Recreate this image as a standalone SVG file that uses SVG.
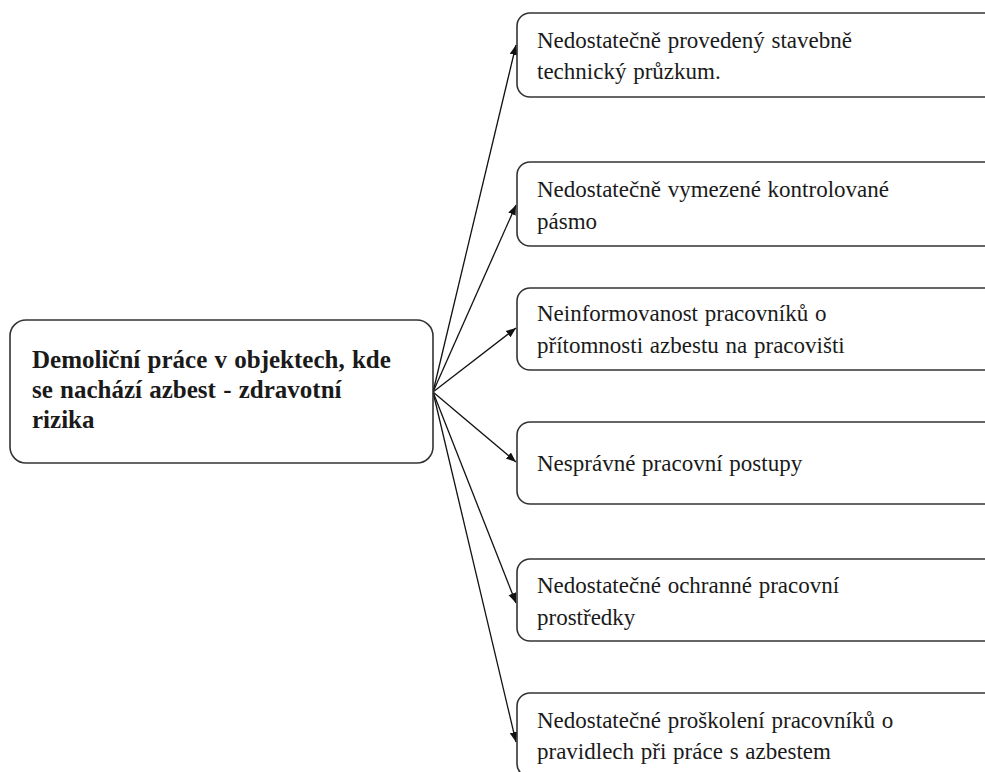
<svg xmlns="http://www.w3.org/2000/svg" width="985" height="772" viewBox="0 0 985 772">
<defs>
<marker id="ah" viewBox="0 0 10 10" refX="10" refY="5" markerWidth="10" markerHeight="10" markerUnits="userSpaceOnUse" orient="auto">
<path d="M0,1 L10,5 L0,9 z" fill="#111"/>
</marker>
</defs>
<style>
.box{fill:#fff;stroke:#333;stroke-width:1.6}
.t{font-family:"Liberation Serif","Times New Roman",serif;font-size:23px;fill:#1a1a1a;word-spacing:1px}
.tb{font-family:"Liberation Serif","Times New Roman",serif;font-size:25px;font-weight:bold;fill:#1a1a1a;word-spacing:1px}
.c{stroke:#111;stroke-width:1.3;fill:none;marker-end:url(#ah)}
</style>
<rect width="985" height="772" fill="#fff"/>
<g id="connectors">
<line class="c" x1="433" y1="392" x2="516" y2="45"/>
<line class="c" x1="433" y1="392" x2="516" y2="205"/>
<line class="c" x1="433" y1="392" x2="516" y2="328"/>
<line class="c" x1="433" y1="392" x2="516" y2="462"/>
<line class="c" x1="433" y1="392" x2="516" y2="603"/>
<line class="c" x1="433" y1="392" x2="516" y2="742"/>
</g>
<g id="main">
<rect class="box" x="10" y="320" width="423" height="143" rx="16"/>
<text class="tb" x="32" y="368">Demoliční práce v objektech, kde</text>
<text class="tb" x="32" y="398">se nachází azbest - zdravotní</text>
<text class="tb" x="32" y="428">rizika</text>
</g>
<g id="n1">
<rect class="box" x="517" y="13" width="490" height="84" rx="13"/>
<text class="t" x="537" y="48">Nedostatečně provedený stavebně</text>
<text class="t" x="537" y="79">technický průzkum.</text>
</g>
<g id="n2">
<rect class="box" x="517" y="162" width="490" height="84" rx="13"/>
<text class="t" x="537" y="197">Nedostatečně vymezené kontrolované</text>
<text class="t" x="537" y="229">pásmo</text>
</g>
<g id="n3">
<rect class="box" x="517" y="288" width="490" height="82" rx="13"/>
<text class="t" x="537" y="321">Neinformovanost pracovníků o</text>
<text class="t" x="537" y="353">přítomnosti azbestu na pracovišti</text>
</g>
<g id="n4">
<rect class="box" x="517" y="422" width="490" height="82" rx="13"/>
<text class="t" x="537" y="471">Nesprávné pracovní postupy</text>
</g>
<g id="n5">
<rect class="box" x="517" y="559" width="490" height="82" rx="13"/>
<text class="t" x="537" y="593">Nedostatečné ochranné pracovní</text>
<text class="t" x="537" y="625">prostředky</text>
</g>
<g id="n6">
<rect class="box" x="517" y="693" width="490" height="84" rx="13"/>
<text class="t" x="537" y="728">Nedostatečné proškolení pracovníků o</text>
<text class="t" x="537" y="759">pravidlech při práce s azbestem</text>
</g>
</svg>
